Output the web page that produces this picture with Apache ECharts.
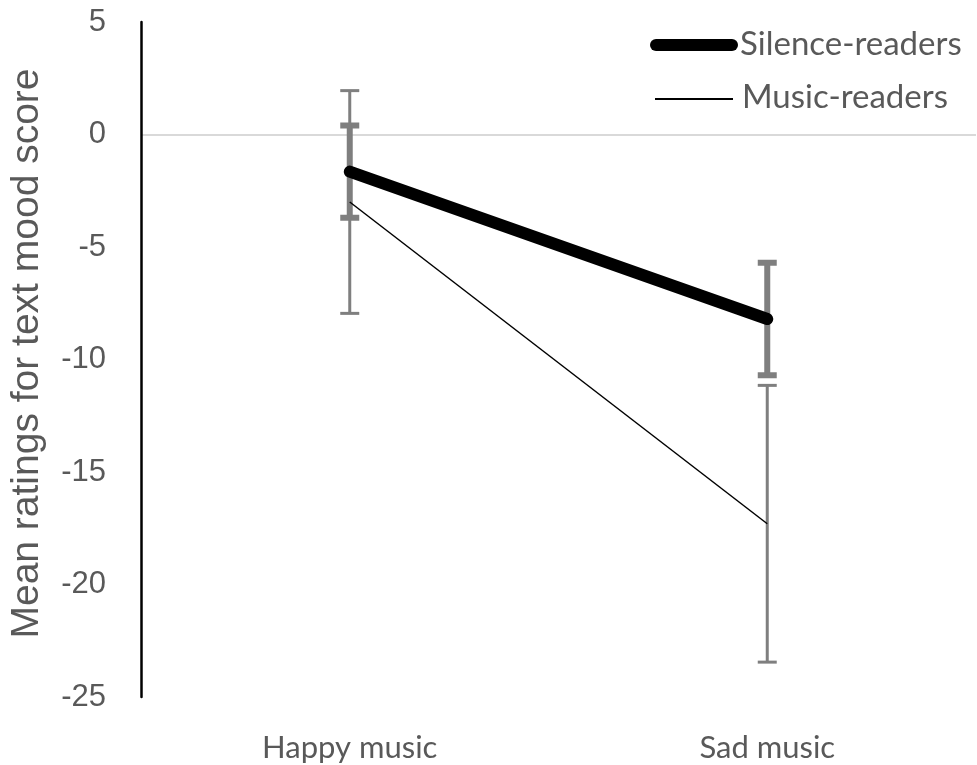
<!DOCTYPE html>
<html>
<head>
<meta charset="utf-8">
<script src="https://cdn.jsdelivr.net/npm/echarts@6/dist/echarts.min.js"></script>
<style>
  html, body { margin: 0; padding: 0; background: #fff; }
  #chart { width: 977px; height: 765px; }
</style>
</head>
<body>
<div id="chart"></div>
<script>
// Mean text mood ratings by music condition, with error bars
const categories = ['Happy music', 'Sad music'];
const seriesNames = ['Silence-readers', 'Music-readers'];
const silenceMeans = [-1.65, -8.2];
const silenceErr = [2.05, 2.5];
const musicMeans = [-3.0, -17.3];
const musicErr = [4.95, 6.15];
const yTicks = { min: -25, max: 5, step: 5 };

const textGray = '#595959';
const barGray = '#7f7f7f';
const labelFont = 'Lato, "Open Sans", sans-serif';

function errorBarSeries(name, means, errs, lineW, capW, capH) {
  return {
    type: 'custom',
    name: name + ' error',
    z: 1,
    silent: true,
    data: means.map((m, i) => [i, m - errs[i], m + errs[i]]),
    renderItem: function (params, api) {
      const lo = api.coord([api.value(0), api.value(1)]);
      const hi = api.coord([api.value(0), api.value(2)]);
      const style = { stroke: barGray, lineWidth: lineW };
      const capStyle = { stroke: barGray, lineWidth: capH };
      return {
        type: 'group',
        children: [
          { type: 'line', shape: { x1: lo[0], y1: lo[1], x2: hi[0], y2: hi[1] }, style: style },
          { type: 'line', shape: { x1: lo[0] - capW / 2, y1: lo[1], x2: lo[0] + capW / 2, y2: lo[1] }, style: capStyle },
          { type: 'line', shape: { x1: hi[0] - capW / 2, y1: hi[1], x2: hi[0] + capW / 2, y2: hi[1] }, style: capStyle }
        ]
      };
    }
  };
}

// Legend keys: thick and thin line swatches with their labels
const legendGraphic = [
  { type: 'line', shape: { x1: 656, y1: 45, x2: 732, y2: 45 },
    style: { stroke: '#000000', lineWidth: 12, lineCap: 'round' } },
  { type: 'text', left: 740, top: 45 - 17,
    style: { text: seriesNames[0], fill: textGray, font: '33px ' + labelFont, textVerticalAlign: 'top' } },
  { type: 'line', shape: { x1: 655, y1: 99, x2: 733, y2: 99 },
    style: { stroke: '#000000', lineWidth: 2 } },
  { type: 'text', left: 742, top: 99 - 18,
    style: { text: seriesNames[1], fill: textGray, font: '33px ' + labelFont, textVerticalAlign: 'top' } }
];

const chart = echarts.init(document.getElementById('chart'), null, { renderer: 'canvas' });
chart.setOption({
  animation: false,
  backgroundColor: '#ffffff',
  grid: { left: 140, right: 1, top: 22, bottom: 68, containLabel: false },
  graphic: legendGraphic,
  xAxis: {
    type: 'category',
    data: categories,
    boundaryGap: true,
    axisLine: { show: false, onZero: false },
    axisTick: { show: false },
    axisLabel: { color: textGray, fontSize: 31, margin: 35, fontFamily: labelFont },
    splitLine: { show: false }
  },
  yAxis: {
    type: 'value',
    min: yTicks.min,
    max: yTicks.max,
    interval: yTicks.step,
    name: 'Mean ratings for text mood score',
    nameLocation: 'middle',
    nameRotate: 90,
    nameGap: 94,
    nameTextStyle: { color: textGray, fontSize: 39, fontFamily: '"Liberation Sans", Arial, sans-serif', padding: [0, 0, 0, 12] },
    axisLine: { show: true, lineStyle: { color: '#000000', width: 2.5 } },
    axisTick: { show: false },
    axisLabel: { color: textGray, fontSize: 31, margin: 35, fontFamily: '"Liberation Sans", Arial, sans-serif' },
    splitLine: { show: false }
  },
  series: [
    errorBarSeries(seriesNames[0], silenceMeans, silenceErr, 6, 19, 6),
    errorBarSeries(seriesNames[1], musicMeans, musicErr, 3, 19, 3),
    {
      name: seriesNames[0],
      type: 'line',
      z: 3,
      data: silenceMeans,
      symbol: 'none',
      lineStyle: { color: '#000000', width: 12, cap: 'round' },
      itemStyle: { color: '#000000' },
      markLine: {
        silent: true,
        symbol: 'none',
        label: { show: false },
        lineStyle: { color: '#d9d9d9', width: 2, type: 'solid' },
        data: [{ yAxis: 0 }],
        z: 0
      }
    },
    {
      name: seriesNames[1],
      type: 'line',
      z: 2,
      data: musicMeans,
      symbol: 'none',
      lineStyle: { color: '#000000', width: 1.5 },
      itemStyle: { color: '#000000' }
    }
  ]
});
</script>
</body>
</html>
